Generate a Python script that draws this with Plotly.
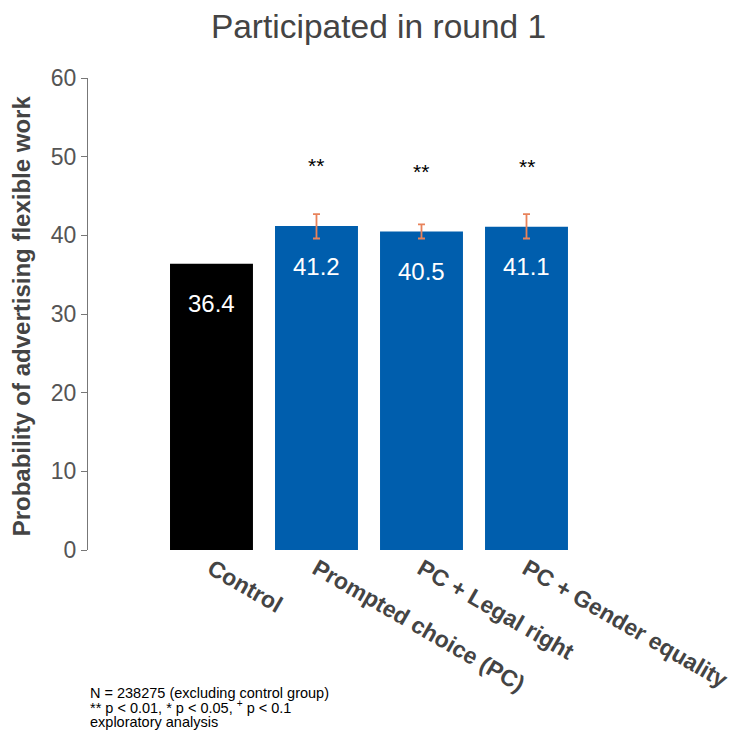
import plotly.graph_objects as go

categories = ["Control", "Prompted choice (PC)", "PC + Legal right", "PC + Gender equality"]
values = [36.4, 41.2, 40.5, 41.1]
err_plus = [0, 1.5, 0.9, 1.6]
err_minus = [0, 1.6, 0.9, 1.5]
stars = ["", "**", "**", "**"]
colors = ["#000000", "#005EAD", "#005EAD", "#005EAD"]
y_ticks = [0, 10, 20, 30, 40, 50, 60]
footnotes = ["N = 238275 (excluding control group)",
             "** p &lt; 0.01, * p &lt; 0.05, <sup>+</sup> p &lt; 0.1",
             "exploratory analysis"]

x_idx = list(range(len(categories)))

fig = go.Figure()
# control bar (no error bar)
fig.add_trace(go.Bar(
    x=x_idx[:1], y=values[:1], width=0.79,
    marker=dict(color=colors[:1], line=dict(width=0)),
    hoverinfo="skip", showlegend=False,
))
# treatment bars with error bars
fig.add_trace(go.Bar(
    x=x_idx[1:], y=values[1:], width=0.79,
    marker=dict(color=colors[1:], line=dict(width=0)),
    error_y=dict(type="data", symmetric=False,
                 array=err_plus[1:], arrayminus=err_minus[1:],
                 color="#E8825A", thickness=1.8, width=3.5, visible=True),
    hoverinfo="skip", showlegend=False,
))
fig.update_layout(barmode="overlay")

annotations = []
for i, v in enumerate(values):
    annotations.append(dict(x=i, y=v - 5.1, xref="x", yref="y", text=f"{v:.1f}",
                            showarrow=False, font=dict(size=24, color="white"),
                            xanchor="center", yanchor="middle"))
    if stars[i]:
        annotations.append(dict(x=i, y=v + 7.65, xref="x", yref="y", text=stars[i],
                                showarrow=False, font=dict(size=21, color="black"),
                                xanchor="center", yanchor="middle"))

annotations.append(dict(x=-0.13, y=0.496, xref="paper", yref="paper",
                        text="<b>Probability of advertising flexible work</b>",
                        textangle=-90, showarrow=False,
                        font=dict(size=24, color="#444444"),
                        xanchor="center", yanchor="middle"))
for j, (line, yy) in enumerate(zip(footnotes, [-0.3023, -0.3326, -0.3638])):
    annotations.append(dict(x=0, y=yy, xref="paper", yref="paper", align="left",
                            text=line, showarrow=False,
                            font=dict(size=14.5, color="black"),
                            xanchor="left", yanchor="middle"))

fig.update_layout(
    width=741, height=740,
    paper_bgcolor="white", plot_bgcolor="white",
    margin=dict(l=80, r=149, t=70, b=198, autoexpand=False),
    font=dict(family="Liberation Sans, Arial, sans-serif"),
    title=dict(text="Participated in round 1", x=0.5, xref="container", xanchor="center",
               y=0.9757, yanchor="middle",
               font=dict(size=33.5, color="#444444")),
    xaxis=dict(range=[-1.176, 3.7], tickmode="array", tickvals=x_idx,
               ticktext=[f"<b>{c}</b>" for c in categories], tickangle=30,
               automargin=False, ticklabeloverflow="allow",
               showline=False, showgrid=False, zeroline=False, ticks="",
               tickfont=dict(size=23, color="#444444")),
    yaxis=dict(range=[0, 60], tickmode="array", tickvals=y_ticks,
               automargin=False,
               showline=True, linecolor="#777777", linewidth=1,
               ticks="outside", ticklen=6, tickcolor="#777777",
               showgrid=False, zeroline=False,
               tickfont=dict(size=23, color="#555555")),
    annotations=annotations,
)

fig.write_html("out.html")
